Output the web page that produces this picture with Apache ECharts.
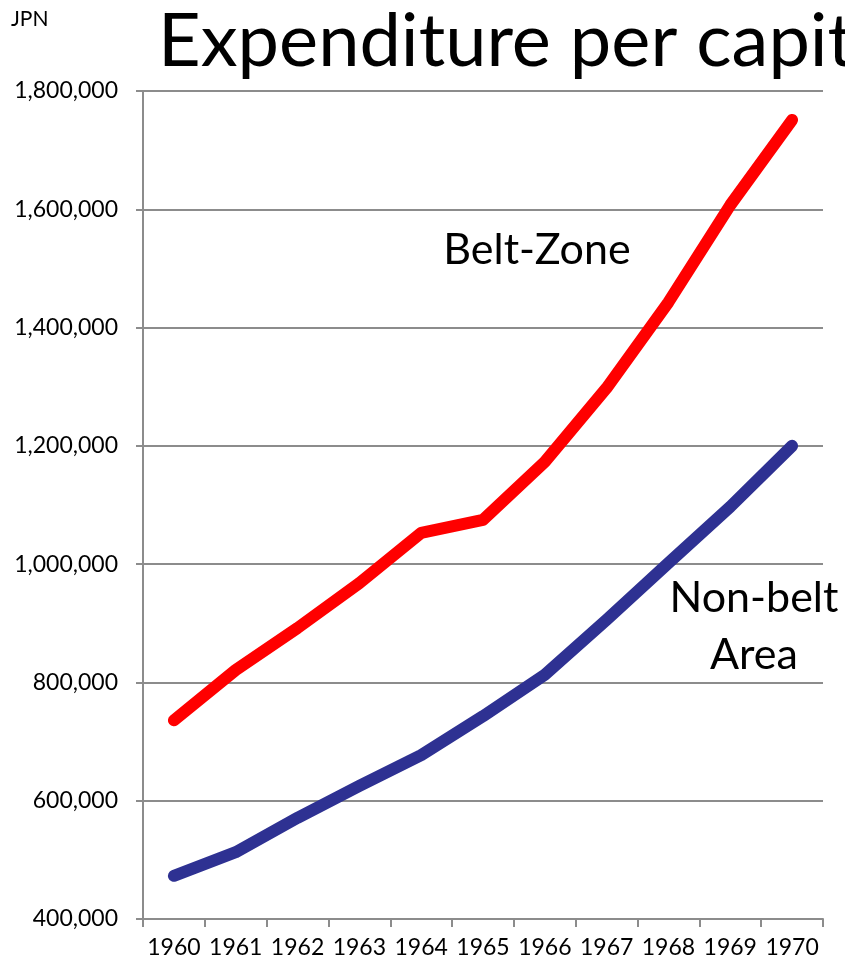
<!DOCTYPE html>
<html><head><meta charset="utf-8">
<script src="https://cdn.jsdelivr.net/npm/echarts@6/dist/echarts.min.js"></script>
<style>html,body{margin:0;padding:0;background:#fff;overflow:hidden}#c{width:845px;height:966px}</style>
</head><body><div id="c"></div>
<script>
const years = ['1960','1961','1962','1963','1964','1965','1966','1967','1968','1969','1970'];
const beltZone = [736000, 821000, 892000, 968000, 1053000, 1075000, 1173000, 1298000, 1443000, 1607000, 1751000];
const nonBelt = [473000, 513000, 571000, 625000, 677000, 743000, 813000, 906000, 1002000, 1097000, 1200000];
const yTicks = {min: 400000, max: 1800000, interval: 200000};
const FONT = 'Lato, "Open Sans", sans-serif';
const chart = echarts.init(document.getElementById('c'));
chart.setOption({
  animation: false,
  backgroundColor: '#fff',
  grid: {left: 143, right: 22, top: 91, bottom: 47, containLabel: false},
  xAxis: {
    type: 'category', data: years, boundaryGap: true,
    axisLine: {lineStyle: {color: '#8c8c8c', width: 2}},
    axisTick: {show: true, interval: 0, length: 8, alignWithLabel: false, lineStyle: {color: '#8c8c8c', width: 2}},
    axisLabel: {interval: 0, color: '#000', fontSize: 23, fontFamily: FONT, margin: 17}
  },
  yAxis: {
    type: 'value', min: yTicks.min, max: yTicks.max, interval: yTicks.interval,
    axisLine: {show: true, lineStyle: {color: '#8c8c8c', width: 2}},
    axisTick: {show: true, length: 7, lineStyle: {color: '#8c8c8c', width: 2}},
    splitLine: {lineStyle: {color: '#8c8c8c', width: 2}},
    axisLabel: {color: '#000', fontSize: 23, fontFamily: FONT, margin: 25,
      formatter: v => v.toLocaleString('en-US')}
  },
  series: [
    {type: 'line', name: 'Belt-Zone', data: beltZone, symbol: 'none',
     lineStyle: {color: '#ff0000', width: 12, cap: 'round', join: 'round'}},
    {type: 'line', name: 'Non-belt Area', data: nonBelt, symbol: 'none',
     lineStyle: {color: '#2e3192', width: 12, cap: 'round', join: 'round'}}
  ],
  graphic: [
    {type: 'text', left: 11, top: 9, style: {text: 'JPN', font: '21px ' + FONT, fill: '#000'}},
    {type: 'text', x: 158, y: 5, style: {text: 'Expenditure per capita', font: '74px ' + FONT, fill: '#000'}},
    {type: 'text', x: 537, y: 250, style: {text: 'Belt-Zone', font: '43px ' + FONT, fill: '#000', align: 'center', verticalAlign: 'middle'}},
    {type: 'text', x: 754, y: 598, style: {text: 'Non-belt', font: '43px ' + FONT, fill: '#000', align: 'center', verticalAlign: 'middle'}},
    {type: 'text', x: 754, y: 655, style: {text: 'Area', font: '43px ' + FONT, fill: '#000', align: 'center', verticalAlign: 'middle'}}
  ]
});
</script></body></html>
